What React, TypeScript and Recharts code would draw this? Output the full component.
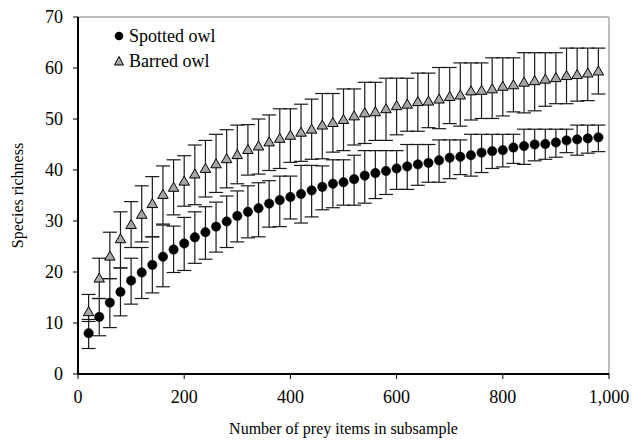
import React from "react";
import {
  ComposedChart,
  Scatter,
  XAxis,
  YAxis,
  ErrorBar,
  ReferenceLine,
  Legend,
} from "recharts";

const preyItems = [
  20, 40, 60, 80, 100, 120, 140, 160, 180, 200, 220, 240, 260, 280, 300, 320, 340,
  360, 380, 400, 420, 440, 460, 480, 500, 520, 540, 560, 580, 600, 620, 640, 660,
  680, 700, 720, 740, 760, 780, 800, 820, 840, 860, 880, 900, 920, 940, 960, 980,
];

const spottedMean = [
  8.0, 11.2, 14.0, 16.1, 18.3, 19.9, 21.4, 23.0, 24.4, 25.6, 26.8, 27.8, 28.9, 29.9,
  31.0, 31.8, 32.5, 33.4, 34.1, 34.7, 35.3, 36.0, 36.7, 37.3, 37.6, 38.2, 38.9, 39.4,
  39.8, 40.3, 40.7, 41.1, 41.4, 41.9, 42.4, 42.6, 42.9, 43.4, 43.7, 43.9, 44.4, 44.7,
  45.0, 45.1, 45.4, 45.8, 46.0, 46.2, 46.4,
];
const spottedLow = [
  5.0, 7.5, 9.1, 11.4, 13.7, 14.8, 15.9, 17.1, 19.9, 20.3, 21.7, 22.5, 23.9, 24.8,
  25.9, 26.7, 26.9, 28.8, 28.9, 30.4, 29.6, 30.8, 32.2, 32.6, 33.1, 33.1, 33.5, 34.4,
  35.2, 36.2, 36.2, 37.0, 37.6, 37.6, 38.3, 39.1, 38.8, 39.5, 40.3, 40.6, 41.3, 41.1,
  41.8, 42.1, 42.5, 43.4, 42.9, 43.3, 43.6,
];
const spottedHigh = [
  10.7, 14.8, 18.7, 20.8, 22.7, 24.8, 26.9, 29.2, 29.0, 30.7, 31.8, 32.8, 33.7, 34.9,
  35.9, 36.9, 37.5, 37.9, 38.8, 38.8, 40.9, 40.9, 40.8, 42.0, 42.0, 42.9, 43.8, 43.8,
  43.8, 43.8, 45.0, 45.0, 45.0, 45.9, 45.9, 45.9, 47.0, 47.0, 47.0, 47.0, 47.0, 48.0,
  48.0, 48.0, 48.0, 48.0, 48.8, 48.8, 48.8,
];

const barredMean = [
  12.1, 18.7, 23.0, 26.4, 29.2, 31.2, 33.3, 35.1, 36.5, 37.7, 39.1, 40.2, 41.1, 42.1,
  42.9, 43.9, 44.6, 45.4, 46.1, 46.7, 47.3, 47.9, 48.7, 49.2, 49.8, 50.5, 51.1, 51.3,
  51.9, 52.5, 52.8, 53.3, 53.4, 53.8, 54.3, 54.6, 55.4, 55.5, 55.8, 56.3, 56.6, 57.1,
  57.4, 57.7, 58.0, 58.4, 58.6, 58.9, 59.3,
];
const barredLow = [
  10.3, 14.8, 18.7, 20.8, 24.8, 25.9, 26.9, 29.4, 31.2, 32.9, 33.2, 34.7, 35.6, 36.5,
  37.3, 39.0, 39.2, 39.9, 40.3, 41.5, 41.7, 42.1, 42.2, 43.5, 43.8, 44.9, 45.2, 45.8,
  45.8, 46.9, 47.6, 47.6, 48.3, 48.1, 49.1, 48.6, 49.8, 50.1, 50.1, 50.6, 51.4, 51.2,
  51.6, 52.5, 53.0, 53.0, 53.5, 53.6, 54.9,
];
const barredHigh = [
  15.6, 22.7, 27.8, 31.8, 33.8, 36.9, 38.7, 40.8, 42.0, 42.8, 44.9, 45.8, 47.0, 47.9,
  48.8, 48.9, 50.0, 50.8, 52.0, 52.0, 52.9, 53.9, 55.0, 55.0, 55.9, 55.9, 57.2, 57.2,
  58.0, 58.0, 58.0, 59.0, 59.0, 60.1, 60.1, 61.0, 61.0, 61.0, 62.0, 62.0, 62.0, 63.0,
  63.0, 63.0, 63.0, 63.9, 63.9, 63.9, 63.9,
];

const xTicks = [0, 200, 400, 600, 800, 1000];
const yTicks = [0, 10, 20, 30, 40, 50, 60, 70];

const spottedData = preyItems.map((x, i) => ({
  x,
  y: spottedMean[i],
  err: [spottedMean[i] - spottedLow[i], spottedHigh[i] - spottedMean[i]],
}));
const barredData = preyItems.map((x, i) => ({
  x,
  y: barredMean[i],
  err: [barredMean[i] - barredLow[i], barredHigh[i] - barredMean[i]],
}));

const FONT = "'Liberation Serif', 'Times New Roman', serif";
const TRI_FILL = "#a6a6a6";

const Circle = (props: any) => {
  const { cx, cy } = props;
  if (cx == null || cy == null) return null;
  return <circle cx={cx} cy={cy} r={4.7} fill="#000" stroke="#000" strokeWidth={0.5} />;
};

const Triangle = (props: any) => {
  const { cx, cy } = props;
  if (cx == null || cy == null) return null;
  const h = 9;
  const w = 10.5;
  const pts = `${cx},${cy - h * 0.62} ${cx - w / 2},${cy + h * 0.38} ${cx + w / 2},${cy + h * 0.38}`;
  return <polygon points={pts} fill={TRI_FILL} stroke="#000" strokeWidth={1} />;
};

const LegendContent = () => (
  <div style={{ fontFamily: FONT, fontSize: 18, color: "#000", lineHeight: "25px" }}>
    <div style={{ display: "flex", alignItems: "center", height: 25 }}>
      <svg width={12} height={12} style={{ marginRight: 4 }}>
        <circle cx={6} cy={6} r={4.3} fill="#000" />
      </svg>
      <span>Spotted owl</span>
    </div>
    <div style={{ display: "flex", alignItems: "center", height: 25 }}>
      <svg width={12} height={12} style={{ marginRight: 4 }}>
        <polygon points="6,1.5 1.5,10 10.5,10" fill={TRI_FILL} stroke="#000" strokeWidth={1} />
      </svg>
      <span>Barred owl</span>
    </div>
  </div>
);

export default function App() {
  return (
    <div style={{ position: "absolute", left: 0, top: 0, width: 633, height: 443, background: "#fff" }}>
      <ComposedChart
        width={633}
        height={443}
        margin={{ top: 17, right: 24, left: 0, bottom: 0 }}
      >
        <XAxis
          dataKey="x"
          type="number"
          domain={[0, 1000]}
          ticks={xTicks}
          tickFormatter={(v: number) => v.toLocaleString("en-US")}
          height={69}
          tickSize={5}
          tickMargin={11}
          axisLine={{ stroke: "#000", strokeWidth: 2 }}
          tickLine={{ stroke: "#000", strokeWidth: 1 }}
          tick={{ fill: "#000", fontFamily: FONT, fontSize: 18 }}
          allowDataOverflow
          label={{
            value: "Number of prey items in subsample",
            position: "center",
            dy: 20,
            fill: "#000",
            fontFamily: FONT,
            fontSize: 16,
          }}
        />
        <YAxis
          dataKey="y"
          type="number"
          domain={[0, 70]}
          ticks={yTicks}
          width={78}
          tickSize={5}
          tickMargin={10}
          axisLine={{ stroke: "#000", strokeWidth: 2 }}
          tickLine={{ stroke: "#000", strokeWidth: 1 }}
          tick={{ fill: "#000", fontFamily: FONT, fontSize: 18 }}
          allowDataOverflow
          label={{
            value: "Species richness",
            angle: -90,
            position: "center",
            dx: -22,
            fill: "#000",
            fontFamily: FONT,
            fontSize: 16,
          }}
        />
        <ReferenceLine y={70} stroke="#808080" strokeWidth={1} />
        <ReferenceLine x={1000} stroke="#808080" strokeWidth={1} />
        <Legend
          verticalAlign="middle"
          align="center"
          layout="horizontal"
          wrapperStyle={{ left: 113, top: 23.5, width: 150 }}
          content={<LegendContent />}
        />
        <Scatter
          name="Barred owl"
          data={barredData}
          shape={<Triangle />}
          isAnimationActive={false}
        >
          <ErrorBar dataKey="err" direction="y" width={7} stroke="#1a1a1a" strokeWidth={1.2} isAnimationActive={false} />
        </Scatter>
        <Scatter
          name="Spotted owl"
          data={spottedData}
          shape={<Circle />}
          isAnimationActive={false}
        >
          <ErrorBar dataKey="err" direction="y" width={7} stroke="#1a1a1a" strokeWidth={1.2} isAnimationActive={false} />
        </Scatter>
      </ComposedChart>
    </div>
  );
}
